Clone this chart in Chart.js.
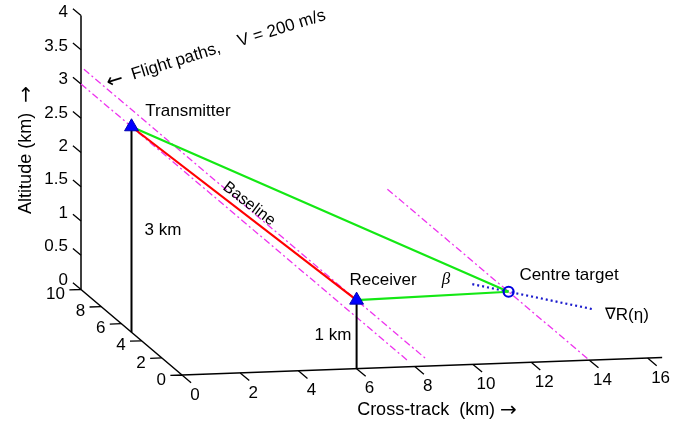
<!DOCTYPE html>
<html>
<head>
<meta charset="utf-8">
<script src="https://cdn.jsdelivr.net/npm/chart.js@4"></script>
<style>
html, body { margin: 0; padding: 0; background: #fff; }
#wrap { width: 700px; height: 425px; }
</style>
</head>
<body>
<div id="wrap"><canvas id="Grafico" width="700" height="425"></canvas></div>
<script>
'use strict';
// positions in km: [cross-track, along-track, altitude]
const transmitter = [0, 5, 3];
const receiver = [6, 0, 1];
const target = [14, 8, 0];
// flight paths (parallel to along-track axis)
const txPath = [[0, 10, 3], [0, -22.3, 3]];
const rxPath = [[6, 27, 1], [6, -7, 1]];
const tgPath = [[14, 20, 0], [14, 0, 0]];
// gradient of range through the target
const gradR = [[13.1, 9.0, 0], [16.1, 5.7, 0]];

// axes
const xTicks = [0, 2, 4, 6, 8, 10, 12, 14, 16];
const yTicks = [0, 2, 4, 6, 8, 10];
const zTicks = [0, 0.5, 1, 1.5, 2, 2.5, 3, 3.5, 4];
const xMax = 16.5, yMax = 10, zMax = 4;

// oblique view of the 3D box (chart units)
const view = { o: [182, 375], ex: [29.1, -1.06], ey: [-10.1, -8.55], ez: [0, -68.5] };
function proj(p) {
  return {
    x: view.o[0] + p[0] * view.ex[0] + p[1] * view.ey[0] + p[2] * view.ez[0],
    y: view.o[1] + p[0] * view.ex[1] + p[1] * view.ey[1] + p[2] * view.ez[1]
  };
}
// several segments in one dataset, broken by gaps
function segs(list) {
  const out = [];
  list.forEach((s, i) => {
    if (i) out.push({ x: null, y: null });
    s.forEach(p => out.push(proj(p)));
  });
  return out;
}
function line(data, color, width, dash) {
  return { data: data, showLine: true, borderColor: color, borderWidth: width,
           borderDash: dash || [], pointRadius: 0, spanGaps: false, fill: false };
}

const axisLines = [
  [[0, 0, 0], [xMax, 0, 0]],
  [[0, 0, 0], [0, yMax, 0]],
  [[0, yMax, 0], [0, yMax, zMax]]
];
const tickLines = [];
xTicks.forEach(v => tickLines.push([[v, 0, 0], [v, -0.9, 0]]));
yTicks.forEach(v => tickLines.push([[0, v, 0], [-0.4, v, 0]]));
zTicks.forEach(v => tickLines.push([[0, yMax, v], [0, yMax + 0.8, v]]));

const green = '#14e814';
const magenta = '#ee33ee';

const datasets = [
  { data: [proj(transmitter), proj(receiver)], pointStyle: 'triangle', pointRadius: 8,
    backgroundColor: '#0000ff', borderColor: '#0000b0', borderWidth: 1, showLine: false },
  { data: [proj(target)], pointStyle: 'circle', pointRadius: 5,
    backgroundColor: 'rgba(0,0,0,0)', borderColor: '#0000e0', borderWidth: 2.2, showLine: false },
  line(segs([[transmitter, receiver]]), '#ff0000', 2.2),
  line(segs([[transmitter, target], [receiver, target]]), green, 2.2),
  line(segs([gradR]), '#1a1acc', 2.2, [2, 3]),
  line(segs([[transmitter, [transmitter[0], transmitter[1], 0]],
             [receiver, [receiver[0], receiver[1], 0]]]), '#000000', 2),
  line(segs([txPath, rxPath, tgPath]), magenta, 1.3, [7, 3, 2, 3]),
  line(segs(axisLines), '#000000', 1.5),
  line(segs(tickLines), '#000000', 1.3)
];

const sans = '"Liberation Sans", Arial, sans-serif';
const arrowFont = '"Noto Sans", "DejaVu Sans", sans-serif';
// each note: list of runs [text, font]
const notes = [
  { runs: [['\u2190', '20px ' + arrowFont], ['  Flight paths,    V = 200 m/s', '17px ' + sans]], x: 216, y: 49, rot: -17.3 },
  { runs: [['Transmitter', '17px ' + sans]], x: 188, y: 111 },
  { runs: [['Baseline', '16px ' + sans]], x: 249, y: 204, rot: 37.4 },
  { runs: [['3 km', '17px ' + sans]], x: 163, y: 230 },
  { runs: [['1 km', '17px ' + sans]], x: 333, y: 335 },
  { runs: [['Receiver', '17px ' + sans]], x: 383, y: 280 },
  { runs: [['\u03b2', 'italic 17px "Liberation Serif", serif']], x: 446, y: 280 },
  { runs: [['Centre target', '17px ' + sans]], x: 569, y: 275 },
  { runs: [['\u2207', '16px "DejaVu Sans", sans-serif'], ['R(\u03b7)', '17px ' + sans]], x: 627, y: 315 },
  { runs: [['Cross-track  (km) ', '18px ' + sans], ['\u2192', '20px ' + arrowFont]], x: 437, y: 410 },
  { runs: [['Altitude (km)  ', '18px ' + sans], ['\u2192', '20px ' + arrowFont]], x: 26, y: 150, rot: -90 }
];

function drawRuns(ctx, runs) {
  let total = 0;
  const widths = runs.map(r => { ctx.font = r[1]; const w = ctx.measureText(r[0]).width; total += w; return w; });
  let x = -total / 2;
  ctx.textAlign = 'left';
  runs.forEach((r, i) => { ctx.font = r[1]; ctx.fillText(r[0], x, 0); x += widths[i]; });
}

const textPlugin = {
  id: 'textPlugin',
  afterDatasetsDraw(chart) {
    const ctx = chart.ctx, sx = chart.scales.x, sy = chart.scales.y;
    ctx.save();
    ctx.fillStyle = '#000';
    ctx.textBaseline = 'middle';
    // tick labels
    ctx.font = '17px ' + sans;
    ctx.textAlign = 'center';
    xTicks.forEach(v => {
      const p = proj([v, 0, 0]);
      ctx.fillText(String(v), sx.getPixelForValue(p.x) + 13, sy.getPixelForValue(p.y) + 20);
    });
    ctx.textAlign = 'right';
    yTicks.forEach(v => {
      const p = proj([0, v, 0]);
      ctx.fillText(String(v), sx.getPixelForValue(p.x) - 16, sy.getPixelForValue(p.y) + 5);
    });
    zTicks.forEach(v => {
      const p = proj([0, yMax, v]);
      ctx.fillText(String(v), sx.getPixelForValue(p.x) - 13, sy.getPixelForValue(p.y) - 3 - 1.6 * (zMax - v));
    });
    // annotations
    notes.forEach(n => {
      ctx.save();
      ctx.translate(sx.getPixelForValue(n.x), sy.getPixelForValue(n.y));
      if (n.rot) ctx.rotate(n.rot * Math.PI / 180);
      drawRuns(ctx, n.runs);
      ctx.restore();
    });
    ctx.restore();
  }
};

new Chart(document.getElementById('Grafico'), {
  type: 'scatter',
  data: { datasets: datasets },
  options: {
    responsive: false,
    animation: false,
    events: [],
    layout: { padding: 0, autoPadding: false },
    plugins: { legend: { display: false }, tooltip: { enabled: false } },
    scales: {
      x: { type: 'linear', min: 0, max: 700, display: false },
      y: { type: 'linear', min: 0, max: 425, reverse: true, display: false }
    },
    elements: { line: { tension: 0 } },
    clip: false
  },
  plugins: [textPlugin]
});
</script>
</body>
</html>
